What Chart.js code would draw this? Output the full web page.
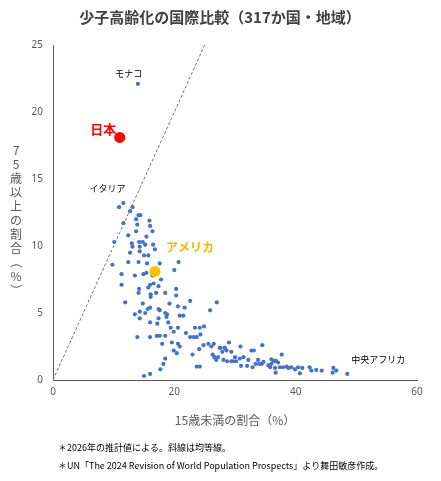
<!DOCTYPE html>
<html><head><meta charset="utf-8">
<script src="https://cdn.jsdelivr.net/npm/chart.js@4"></script>
<style>html,body{margin:0;padding:0;background:#fff}#w{width:441px;height:481px}</style>
</head><body><div id="w"><canvas id="c"></canvas></div>
<script>
const under15 = [10.9,11.6,12.7,13.1,14.1,14.4,13.7,11.6,15.9,13.9,16.0,13.7,16.4,12.4,15.4,10.1,13.0,14.2,14.8,15.2,14.3,16.5,13.1,14.3,16.8,12.7,15.0,15.7,9.8,12.4,14.1,15.5,17.6,20.7,20.0,15.4,14.9,11.3,13.5,16.4,17.8,11.3,16.0,16.6,17.4,15.7,14.2,20.3,14.1,16.1,17.0,18.5,16.1,11.9,20.3,22.6,19.2,27.0,14.8,16.0,20.6,21.7,15.6,17.4,13.5,14.3,15.2,17.6,18.5,18.8,20.9,21.5,14.3,17.4,18.7,25.9,16.0,17.2,19.0,19.4,20.6,23.4,24.2,24.9,19.9,21.9,13.9,16.0,17.1,17.6,18.5,22.6,23.2,23.7,24.3,18.0,19.6,20.6,19.9,20.4,20.9,23.0,24.1,24.8,25.6,26.5,26.1,26.3,26.6,27.6,28.3,28.1,28.6,18.5,18.2,17.7,23.7,24.2,15.0,16.0,30.9,34.5,32.7,33.1,37.7,30.0,30.8,31.4,32.2,33.4,34.0,32.9,31.0,35.5,36.0,36.4,36.7,37.1,35.8,36.6,37.4,36.7,37.9,38.8,39.3,39.9,40.4,40.7,41.1,42.3,42.6,43.4,44.3,46.2,46.1,46.7,38.5,36.0,32.0,34.4,33.8,34.7,27.5,27.9,28.3,29.0,29.4,29.7,30.2,27.2,26.9,28.7,29.4,14.0,48.5];
const over75 = [12.9,13.2,12.6,12.9,12.3,12.3,12.0,11.7,11.9,11.6,11.5,11.1,11.1,10.8,10.7,10.3,10.2,10.3,10.3,10.1,9.95,10.1,9.95,9.6,9.75,9.5,9.3,9.3,8.6,8.8,8.8,8.7,8.7,8.8,8.2,8.0,7.9,7.9,7.8,7.8,7.5,7.1,7.1,7.2,7.0,6.9,6.8,6.8,6.5,6.4,6.5,6.5,6.2,5.8,6.3,5.9,5.7,5.8,5.7,5.4,5.5,5.4,5.3,5.3,4.9,5.1,5.0,5.2,5.0,4.9,4.8,4.8,4.6,4.6,4.7,5.2,4.3,4.2,4.3,3.9,3.9,3.9,3.9,4.0,3.6,3.5,3.2,3.2,3.3,3.3,3.3,3.2,3.2,3.2,3.4,2.7,2.8,2.7,2.2,2.0,2.5,1.9,2.3,2.6,2.7,2.7,2.5,1.9,1.7,2.4,2.4,1.5,2.2,1.6,1.2,0.8,1.0,1.0,0.3,0.45,2.5,2.6,2.2,2.2,1.9,1.7,1.6,1.7,1.5,1.2,1.2,0.95,1.05,1.1,1.2,1.4,1.45,1.3,0.95,0.9,0.95,0.55,0.95,0.9,0.95,0.8,0.95,0.5,0.9,0.95,0.7,0.75,0.7,0.9,0.55,0.7,1.0,1.55,1.05,1.2,1.5,1.35,2.4,2.1,2.4,2.8,2.1,1.4,1.4,1.7,1.5,1.4,1.4,22.1,0.45];
const japan = {x:11.0, y:18.1};
const usa = {x:16.8, y:8.1};
const labels = [
  {t:'モナコ', x:12.5, y:22.1, c:'#000', f:'9px "Noto Sans CJK JP"', dy:-10},
  {t:'日本', x:8.3, y:18.3, c:'#ff0000', f:'bold 13px "Noto Sans CJK JP"', dy:-6},
  {t:'イタリア', x:9.0, y:14.0, c:'#000', f:'9px "Noto Sans CJK JP"', dy:-4},
  {t:'アメリカ', x:22.6, y:9.6, c:'#f5b400', f:'bold 12px "Noto Sans CJK JP"', dy:-4},
  {t:'中央アフリカ', x:53.6, y:1.2, c:'#000', f:'9px "Noto Sans CJK JP"', dy:-4}
];
const xTicks = [0,20,40,60];
const yTicks = [0,5,10,15,20,25];
const diag = [{x:0,y:0},{x:25,y:25}];

const pts = under15.map((x,i)=>({x, y:over75[i]}));
const textPlugin = {
  id:'txt',
  afterDatasetsDraw(ch){
    const {ctx, scales:{x,y}} = ch;
    ctx.save();
    ctx.textAlign='center'; ctx.textBaseline='middle';
    labels.forEach(l=>{ctx.font=l.f; ctx.fillStyle=l.c; ctx.fillText(l.t, x.getPixelForValue(l.x), y.getPixelForValue(l.y)+l.dy);});
    ctx.fillStyle='#404040';
    ctx.font='bold 15px "Noto Sans CJK JP"';
    ctx.fillText('少子高齢化の国際比較（317か国・地域）', 220, 17);
    ctx.font='12px "Noto Sans CJK JP"';
    ctx.fillStyle='#595959';
    ctx.fillText('15歳未満の割合（%）', 235, 420);
    const chars = ['7','5','歳','以','上','の','割','合','（','%','）'];
    chars.forEach((c,i)=>{
      ctx.save();
      ctx.translate(16, 150+i*14);
      if ('（）'.includes(c)) ctx.rotate(Math.PI/2);
      ctx.fillText(c,0,0);
      ctx.restore();
    });
    ctx.textAlign='left';
    ctx.font='9px "Noto Sans CJK JP"';
    ctx.fillStyle='#000';
    ctx.fillText('＊2026年の推計値による。斜線は均等線。', 58, 448);
    ctx.fillText('＊UN「The 2024 Revision of World Population Prospects」より舞田敏彦作成。', 58, 466);
    ctx.restore();
  }
};
new Chart(document.getElementById('c'), {
  type:'scatter',
  data:{datasets:[
    {data:[usa], backgroundColor:'#ffc000', borderWidth:0, pointRadius:5.5},
    {data:[japan], backgroundColor:'#ff0000', borderWidth:0, pointRadius:5.5},
    {data:pts, backgroundColor:'#4472c4', borderWidth:0, pointRadius:2.1},
    {type:'line', data:diag, borderColor:'#707070', borderWidth:1, borderDash:[3,2], pointRadius:0, fill:false}
  ]},
  options:{
    responsive:true, maintainAspectRatio:false, animation:false,
    layout:{padding:{top:45,right:24,bottom:79,left:0}},
    plugins:{legend:{display:false},tooltip:{enabled:false}},
    scales:{
      x:{type:'linear', min:0, max:60, afterFit(s){s.height=22;},
        afterBuildTicks(s){s.ticks=xTicks.map(v=>({value:v}));},
        grid:{display:false, drawTicks:false}, border:{color:'#595959'},
        ticks:{color:'#595959', font:{size:10, family:'"Noto Sans"'}, padding:6}},
      y:{min:0, max:25, afterFit(s){s.width=53;},
        afterBuildTicks(s){s.ticks=yTicks.map(v=>({value:v}));},
        grid:{display:false, drawTicks:false}, border:{color:'#595959'},
        ticks:{color:'#595959', font:{size:10, family:'"Noto Sans"'}, padding:10}}
    }
  },
  plugins:[textPlugin]
});
</script></body></html>
